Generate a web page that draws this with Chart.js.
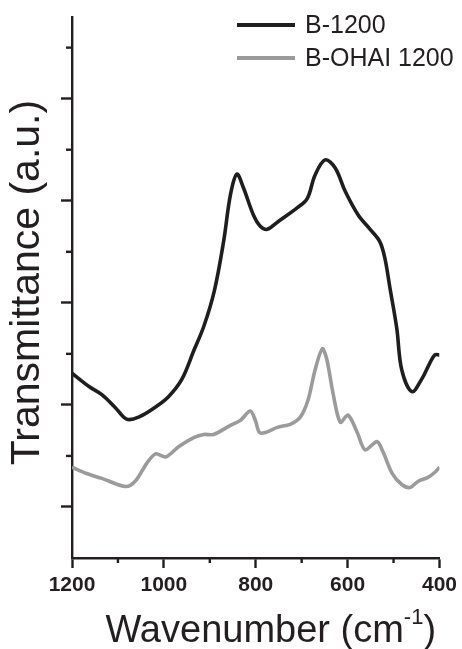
<!DOCTYPE html>
<html><head><meta charset="utf-8">
<script src="https://cdn.jsdelivr.net/npm/chart.js@4.4.1/dist/chart.umd.min.js"></script>
<style>html,body{margin:0;padding:0;background:#fff;}#wrap{width:462px;height:649px;}</style>
</head><body><div id="wrap"><canvas id="c" width="462" height="649"></canvas></div>
<script>
// ---- data ----
const seriesLabels = ['B-1200', 'B-OHAI 1200'];
const wavenumberB = [1200,1163,1135,1105,1081,1055,1018,990,961,935,913,890,870,855,841,827,805,790,775,753,710,688,671,649,627,605,577,551,530,519,508,493,482,460,439,421,410,400];
const transB      = [1.31,1.18,1.10,0.97,0.86,0.88,0.98,1.08,1.25,1.53,1.77,2.12,2.60,3.06,3.26,3.13,2.86,2.75,2.72,2.79,2.93,3.02,3.25,3.40,3.32,3.09,2.86,2.72,2.60,2.44,2.15,1.75,1.34,1.13,1.25,1.41,1.49,1.49];
const wavenumberO = [1200,1170,1135,1083,1061,1037,1018,996,968,935,913,892,855,833,812,801,792,779,753,725,703,686,671,655,645,632,616,599,579,562,536,523,503,482,464,447,425,410,400];
const transO      = [0.39,0.33,0.28,0.20,0.26,0.43,0.52,0.49,0.59,0.68,0.71,0.71,0.80,0.85,0.94,0.85,0.73,0.73,0.78,0.81,0.88,1.05,1.34,1.55,1.44,1.12,0.83,0.90,0.73,0.56,0.64,0.54,0.33,0.22,0.19,0.25,0.29,0.34,0.39];
const xMajorTicks = [1200, 1000, 800, 600, 400];
const xMinorTicks = [1100, 900, 700, 500];
const yMajorTicks = [0, 1, 2, 3, 4];
const yMinorTicks = [0.5, 1.5, 2.5, 3.5, 4.5];
const xTitle = ['Wavenumber (cm', '-1', ')'];
const yTitle = 'Transmittance (a.u.)';

const FONT = "'Liberation Sans', Arial, Helvetica, sans-serif";
const AXIS = '#231f20';
const colors = ['#1e1e1e', '#9b9b9b'];

const minorTicksPlugin = {
  id: 'minorTicks',
  afterDraw(chart) {
    const {ctx, chartArea: ca, scales: {x, y}} = chart;
    ctx.save();
    ctx.strokeStyle = AXIS; ctx.lineWidth = 2.4;
    xMinorTicks.forEach(v => { const p = x.getPixelForValue(v); ctx.beginPath(); ctx.moveTo(p, ca.bottom); ctx.lineTo(p, ca.bottom + 5); ctx.stroke(); });
    yMinorTicks.forEach(v => { const p = y.getPixelForValue(v); ctx.beginPath(); ctx.moveTo(ca.left - 6, p); ctx.lineTo(ca.left, p); ctx.stroke(); });
    ctx.restore();
  }
};

const legendPlugin = {
  id: 'customLegend',
  afterDraw(chart) {
    const {ctx} = chart;
    ctx.save();
    ctx.font = '25px ' + FONT;
    ctx.textBaseline = 'middle';
    ctx.fillStyle = AXIS;
    chart.data.datasets.forEach((ds, i) => {
      const yy = 25 + i * 33;
      ctx.strokeStyle = ds.borderColor; ctx.lineWidth = 4;
      ctx.beginPath(); ctx.moveTo(237, yy); ctx.lineTo(295, yy); ctx.stroke();
      ctx.fillText(ds.label, 305, yy + 1);
    });
    ctx.restore();
  }
};

const titlesPlugin = {
  id: 'titles',
  afterDraw(chart) {
    const {ctx, chartArea: ca} = chart;
    ctx.save();
    ctx.fillStyle = AXIS;
    // x title with superscript
    ctx.textBaseline = 'alphabetic';
    const big = '38px ' + FONT, small = '22px ' + FONT;
    ctx.font = big; const w1 = ctx.measureText(xTitle[0]).width; const w3 = ctx.measureText(xTitle[2]).width;
    ctx.font = small; const w2 = ctx.measureText(xTitle[1]).width;
    const total = w1 + w2 + w3;
    let sx = (ca.left + ca.right) / 2 + 15 - total / 2;
    const base = 642;
    ctx.font = big; ctx.fillText(xTitle[0], sx, base); sx += w1;
    ctx.font = small; ctx.fillText(xTitle[1], sx, base - 18); sx += w2;
    ctx.font = big; ctx.fillText(xTitle[2], sx, base);
    // y title
    ctx.font = '41px ' + FONT;
    ctx.textAlign = 'center'; ctx.textBaseline = 'middle';
    ctx.translate(28, (ca.top + ca.bottom) / 2 - 5);
    ctx.rotate(-Math.PI / 2);
    ctx.fillText(yTitle, 0, 0);
    ctx.restore();
  }
};

new Chart(document.getElementById('c'), {
  type: 'line',
  data: {
    datasets: [
      { label: seriesLabels[0], data: wavenumberB.map((w, i) => ({x: w, y: transB[i]})), borderColor: colors[0], borderWidth: 3.6, pointRadius: 0, fill: false, tension: 0.35 },
      { label: seriesLabels[1], data: wavenumberO.map((w, i) => ({x: w, y: transO[i]})), borderColor: colors[1], borderWidth: 3.6, pointRadius: 0, fill: false, tension: 0.3 }
    ]
  },
  options: {
    responsive: false, animation: false, devicePixelRatio: 1,
    layout: { padding: { top: 17, right: 21, left: 0, bottom: 0 } },
    plugins: { legend: { display: false }, tooltip: { enabled: false } },
    scales: {
      x: {
        type: 'linear', reverse: true, min: 400, max: 1200,
        afterBuildTicks: s => { s.ticks = xMajorTicks.map(v => ({value: v})); },
        afterFit: s => { s.height = 91; },
        border: { display: true, color: AXIS, width: 2.4 },
        grid: { drawOnChartArea: false, drawTicks: true, tickLength: 10, tickWidth: 2.4, tickColor: AXIS },
        ticks: { color: AXIS, padding: 5, maxRotation: 0, font: { family: FONT, size: 21, weight: 'bold' }, callback: v => String(v) },
        title: { display: false, text: xTitle.join('') }
      },
      y: {
        type: 'linear', min: -0.5, max: 4.8,
        afterBuildTicks: s => { s.ticks = yMajorTicks.map(v => ({value: v})); },
        afterFit: s => { s.width = 72; },
        border: { display: true, color: AXIS, width: 2.4 },
        grid: { drawOnChartArea: false, drawTicks: true, tickLength: 11, tickWidth: 2.4, tickColor: AXIS },
        ticks: { display: false },
        title: { display: false, text: yTitle }
      }
    }
  },
  plugins: [minorTicksPlugin, legendPlugin, titlesPlugin]
});
</script></body></html>
